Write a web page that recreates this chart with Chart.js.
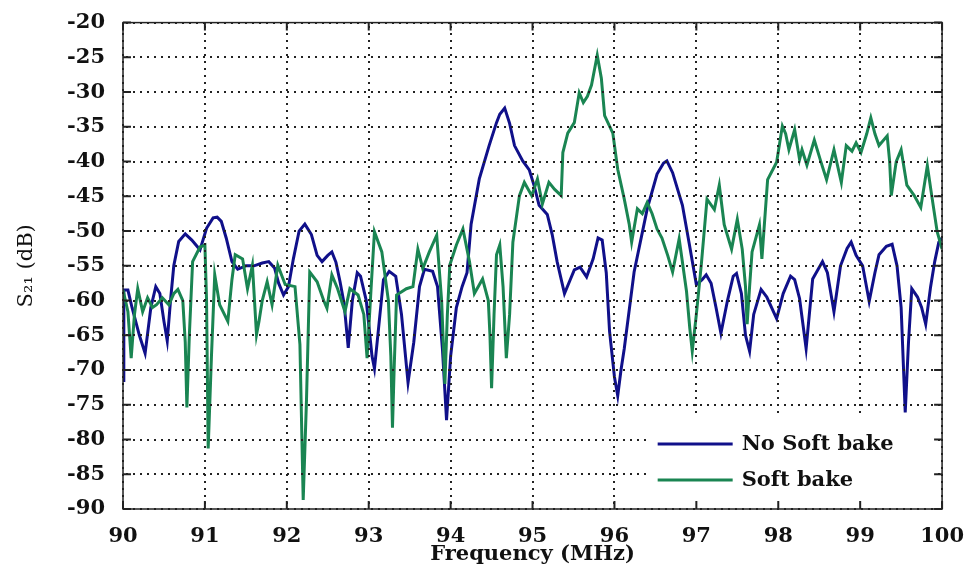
<!DOCTYPE html>
<html>
<head>
<meta charset="utf-8">
<script src="https://cdn.jsdelivr.net/npm/chart.js@4.4.1/dist/chart.umd.min.js"></script>
<style>
  html, body { margin: 0; padding: 0; background: #fff; }
  #wrap { width: 971px; height: 568px; }
</style>
</head>
<body>
<div id="wrap"><canvas id="chart" width="971" height="568"></canvas></div>
<script>
// No Soft bake (blue)
const blueFreq = [90.0, 90.01, 90.06, 90.11, 90.2, 90.27, 90.34, 90.4, 90.45, 90.5, 90.54, 90.58, 90.62, 90.68, 90.76, 90.84, 90.94, 91.02, 91.1, 91.15, 91.2, 91.26, 91.33, 91.4, 91.5, 91.6, 91.7, 91.78, 91.85, 91.9, 91.96, 92.02, 92.08, 92.15, 92.22, 92.3, 92.37, 92.43, 92.5, 92.55, 92.6, 92.65, 92.7, 92.75, 92.8, 92.86, 92.9, 92.97, 93.04, 93.07, 93.12, 93.18, 93.25, 93.33, 93.4, 93.48, 93.55, 93.62, 93.68, 93.78, 93.84, 93.9, 93.95, 94.0, 94.07, 94.14, 94.2, 94.25, 94.35, 94.47, 94.56, 94.6, 94.66, 94.72, 94.78, 94.88, 94.96, 95.02, 95.08, 95.18, 95.24, 95.3, 95.39, 95.46, 95.51, 95.58, 95.66, 95.74, 95.8, 95.85, 95.9, 95.94, 96.0, 96.04, 96.08, 96.12, 96.24, 96.4, 96.52, 96.6, 96.64, 96.71, 96.83, 96.91, 97.0, 97.07, 97.12, 97.18, 97.24, 97.3, 97.38, 97.45, 97.49, 97.55, 97.6, 97.65, 97.7, 97.79, 97.86, 97.98, 98.06, 98.15, 98.2, 98.26, 98.34, 98.42, 98.54, 98.6, 98.68, 98.76, 98.84, 98.89, 98.95, 99.03, 99.11, 99.18, 99.23, 99.32, 99.39, 99.45, 99.5, 99.55, 99.59, 99.63, 99.7, 99.75, 99.8, 99.86, 99.91, 99.96, 100.0];
const blueDb = [-71.5, -58.5, -58.5, -61, -65, -67.6, -61, -58, -59, -63, -65.8, -60, -55, -51.5, -50.4, -51.3, -52.7, -49.6, -48.1, -48, -48.6, -51, -54.4, -55.5, -55, -55, -54.6, -54.4, -55.3, -57.5, -59.2, -58, -54, -50, -49, -50.5, -53.5, -54.4, -53.5, -53, -54.5, -57.3, -60.5, -66.8, -60, -56, -56.5, -60, -68, -69.8, -64, -57, -55.8, -56.5, -62, -71.8, -66, -58, -55.5, -55.8, -58, -67, -77.2, -68, -61, -58, -56, -49, -42.5, -37.7, -34.4, -33.2, -32.3, -34.5, -37.7, -39.9, -41.2, -43.5, -46.3, -47.6, -50.5, -54.4, -59, -57, -55.6, -55.2, -56.6, -54, -51, -51.3, -56, -64.4, -71, -73.7, -70, -66.9, -55.9, -46.8, -41.8, -40.2, -39.9, -41.6, -46.3, -51.6, -57.7, -57, -56.3, -57.5, -61, -64.7, -60, -56.5, -56.1, -59, -65, -67.3, -62, -58.4, -59.5, -62.6, -59, -56.5, -57, -59.7, -66.9, -56.9, -54.4, -56, -61.6, -55, -52.5, -51.6, -53.5, -55, -60.1, -56, -53.4, -52.2, -51.9, -55, -61, -76.1, -66, -58.3, -59.5, -61, -63.4, -58, -54.4, -51.6, -51];

// Soft bake (green)
const greenFreq = [90.0, 90.03, 90.06, 90.1, 90.14, 90.18, 90.24, 90.3, 90.36, 90.41, 90.48, 90.56, 90.62, 90.67, 90.73, 90.76, 90.78, 90.81, 90.85, 90.94, 91.0, 91.02, 91.04, 91.08, 91.12, 91.18, 91.28, 91.33, 91.37, 91.46, 91.52, 91.58, 91.63, 91.66, 91.7, 91.76, 91.82, 91.89, 91.98, 92.1, 92.16, 92.2, 92.24, 92.28, 92.37, 92.45, 92.49, 92.55, 92.62, 92.71, 92.77, 92.87, 92.94, 92.98, 93.03, 93.07, 93.16, 93.24, 93.27, 93.29, 93.31, 93.34, 93.46, 93.54, 93.6, 93.66, 93.74, 93.83, 93.89, 93.93, 93.96, 93.99, 94.07, 94.15, 94.23, 94.29, 94.39, 94.46, 94.48, 94.5, 94.53, 94.56, 94.6, 94.64, 94.68, 94.72, 94.76, 94.84, 94.9, 94.99, 95.06, 95.12, 95.2, 95.27, 95.35, 95.37, 95.43, 95.51, 95.57, 95.62, 95.67, 95.72, 95.79, 95.84, 95.88, 95.98, 96.04, 96.12, 96.18, 96.21, 96.28, 96.34, 96.4, 96.46, 96.52, 96.58, 96.65, 96.71, 96.79, 96.88, 96.92, 96.95, 97.0, 97.06, 97.13, 97.22, 97.28, 97.34, 97.43, 97.5, 97.56, 97.6, 97.62, 97.65, 97.68, 97.77, 97.8, 97.87, 97.98, 98.05, 98.09, 98.13, 98.2, 98.26, 98.29, 98.35, 98.44, 98.52, 98.59, 98.68, 98.77, 98.83, 98.9, 98.95, 99.01, 99.08, 99.13, 99.18, 99.23, 99.33, 99.36, 99.38, 99.44, 99.5, 99.57, 99.66, 99.74, 99.82, 99.88, 99.94, 100.0];
const greenDb = [-58.5, -60, -61.6, -68.3, -62, -58.3, -61.6, -59.6, -61, -60.6, -59.6, -60.6, -59, -58.4, -60, -66, -75.4, -65, -54.4, -52.3, -52, -60, -81.3, -68, -56.3, -60.6, -63, -57, -53.4, -54, -58.3, -54.9, -64.9, -63, -60, -57.3, -60.6, -54.9, -57.7, -58, -66.3, -88.7, -74.4, -55.9, -57.3, -60, -61.1, -56.3, -58.3, -61.6, -58.3, -59.2, -62, -68.3, -58, -50.1, -53, -60, -68, -78.3, -70, -59.2, -58.3, -58, -52.6, -55.4, -53, -50.6, -60, -72, -62, -54.9, -52, -49.7, -54.4, -59, -56.9, -60, -65, -72.6, -62, -53.4, -52, -58, -68.3, -62, -51.6, -44.9, -43, -44.9, -42.5, -46.1, -43, -44, -44.9, -38.7, -35.9, -34.4, -30.1, -31.5, -30.6, -29, -24.7, -28, -33.4, -35.9, -41.1, -45.4, -49, -51.6, -46.8, -47.5, -45.9, -47.5, -49.7, -51, -53.5, -55.9, -51.1, -58.7, -64, -67.3, -62, -54.9, -45.4, -46.9, -43.4, -49.1, -52.6, -48.3, -52.6, -58, -63.4, -58, -53, -49.1, -54, -42.6, -40.1, -34.9, -36, -38.3, -35.4, -39.7, -38.3, -40.5, -36.9, -40, -42.6, -38.3, -43, -37.7, -38.5, -37.3, -38.7, -36, -33.7, -36, -37.7, -36.3, -40, -44.9, -40, -38.3, -43.4, -44.9, -46.6, -40.6, -45.4, -50.1, -52.6];

const xTicks = [90, 91, 92, 93, 94, 95, 96, 97, 98, 99, 100];
const yTicks = [-90, -85, -80, -75, -70, -65, -60, -55, -50, -45, -40, -35, -30, -25, -20];

const COLOR_BLUE = "#10108a";
const COLOR_GREEN = "#1a8552";
const FONT = "'DejaVu Serif', serif";

function pairs(xs, ys) {
    return xs.map((x, i) => ({ x: x, y: ys[i] }));
}

// frame, dotted grid, inward ticks on all sides and the legend box
const framePlugin = {
    id: "frame",
    afterDatasetsDraw(chart) {
        const ctx = chart.ctx;
        const a = chart.chartArea;
        const xs = chart.scales.x, ys = chart.scales.y;
        ctx.save();

        // dotted grid, drawn as small squares on whole pixels
        const step = 7;
        const top = Math.round(a.top), bottom = Math.round(a.bottom);
        const left = Math.round(a.left), right = Math.round(a.right);
        ctx.fillStyle = "#222";
        xTicks.forEach(v => {
            const px = Math.round(xs.getPixelForValue(v));
            for (let yy = top + 3; yy < bottom; yy += step) ctx.fillRect(px - 1, yy, 2, 2);
        });
        yTicks.forEach(v => {
            const py = Math.round(ys.getPixelForValue(v));
            for (let xx = left + 3; xx < right; xx += step) ctx.fillRect(xx, py - 1, 2, 2);
        });

        // legend (white box, no border)
        const lx = xs.getPixelForValue(96.43), rx = xs.getPixelForValue(99.9);
        const ty = ys.getPixelForValue(-76.6), by = ys.getPixelForValue(-89.6);
        ctx.fillStyle = "#fff";
        ctx.fillRect(lx, ty, rx - lx, by - ty);
        const items = [
            { label: chart.data.datasets[1].label, color: COLOR_BLUE },
            { label: chart.data.datasets[0].label, color: COLOR_GREEN }
        ];
        ctx.font = "bold 21px " + FONT;
        ctx.textBaseline = "middle";
        ctx.textAlign = "left";
        items.forEach((it, i) => {
            const yy = ty + 28 + i * 36;
            ctx.strokeStyle = it.color;
            ctx.lineWidth = 3;
            ctx.beginPath();
            ctx.moveTo(lx + 8, yy);
            ctx.lineTo(lx + 83, yy);
            ctx.stroke();
            ctx.fillStyle = "#111";
            ctx.fillText(it.label, lx + 92, yy + 1);
        });

        ctx.strokeStyle = "#222";
        ctx.lineWidth = 1.5;
        ctx.strokeRect(a.left, a.top, a.width, a.height);
        ctx.lineWidth = 2;
        ctx.beginPath();
        xTicks.forEach(v => {
            const px = xs.getPixelForValue(v);
            ctx.moveTo(px, a.bottom); ctx.lineTo(px, a.bottom - 8);
            ctx.moveTo(px, a.top); ctx.lineTo(px, a.top + 8);
        });
        yTicks.forEach(v => {
            const py = ys.getPixelForValue(v);
            ctx.moveTo(a.left, py); ctx.lineTo(a.left + 8, py);
            ctx.moveTo(a.right, py); ctx.lineTo(a.right - 8, py);
        });
        ctx.stroke();
        ctx.restore();
    }
};

new Chart(document.getElementById("chart"), {
    type: "line",
    data: {
        datasets: [
            { label: "Soft bake", data: pairs(greenFreq, greenDb), borderColor: COLOR_GREEN, borderWidth: 3, order: 0 },
            { label: "No Soft bake", data: pairs(blueFreq, blueDb), borderColor: COLOR_BLUE, borderWidth: 3, order: 1 }
        ]
    },
    options: {
        responsive: false,
        animation: false,
        parsing: false,
        elements: { point: { radius: 0 }, line: { tension: 0, borderJoinStyle: "miter", fill: false } },
        layout: { padding: { left: 0, right: 28, top: 19, bottom: 0 } },
        plugins: { legend: { display: false }, tooltip: { enabled: false } },
        scales: {
            x: {
                type: "linear",
                min: 90, max: 100,
                afterBuildTicks: s => { s.ticks = xTicks.map(v => ({ value: v })); },
                afterFit: s => { s.height = 59; },
                border: { display: false },
                grid: { display: false },
                ticks: { padding: 7, color: "#111", font: { family: FONT, size: 21, weight: "bold" }, maxRotation: 0 },
                title: { display: true, text: "Frequency (MHz)", color: "#111", padding: { top: 0, bottom: 1 }, font: { family: FONT, size: 21, weight: "bold" } }
            },
            y: {
                type: "linear",
                min: -90, max: -20,
                afterBuildTicks: s => { s.ticks = yTicks.map(v => ({ value: v })); },
                afterFit: s => { s.width = 123; },
                border: { display: false },
                grid: { display: false },
                ticks: { padding: 10, color: "#111", font: { family: FONT, size: 21, weight: "bold" } },
                title: { display: true, text: "S\u2082\u2081 (dB)", color: "#111", padding: { top: 14, bottom: 0 }, font: { family: FONT, size: 21 } }
            }
        }
    },
    plugins: [framePlugin]
});
</script>
</body>
</html>
